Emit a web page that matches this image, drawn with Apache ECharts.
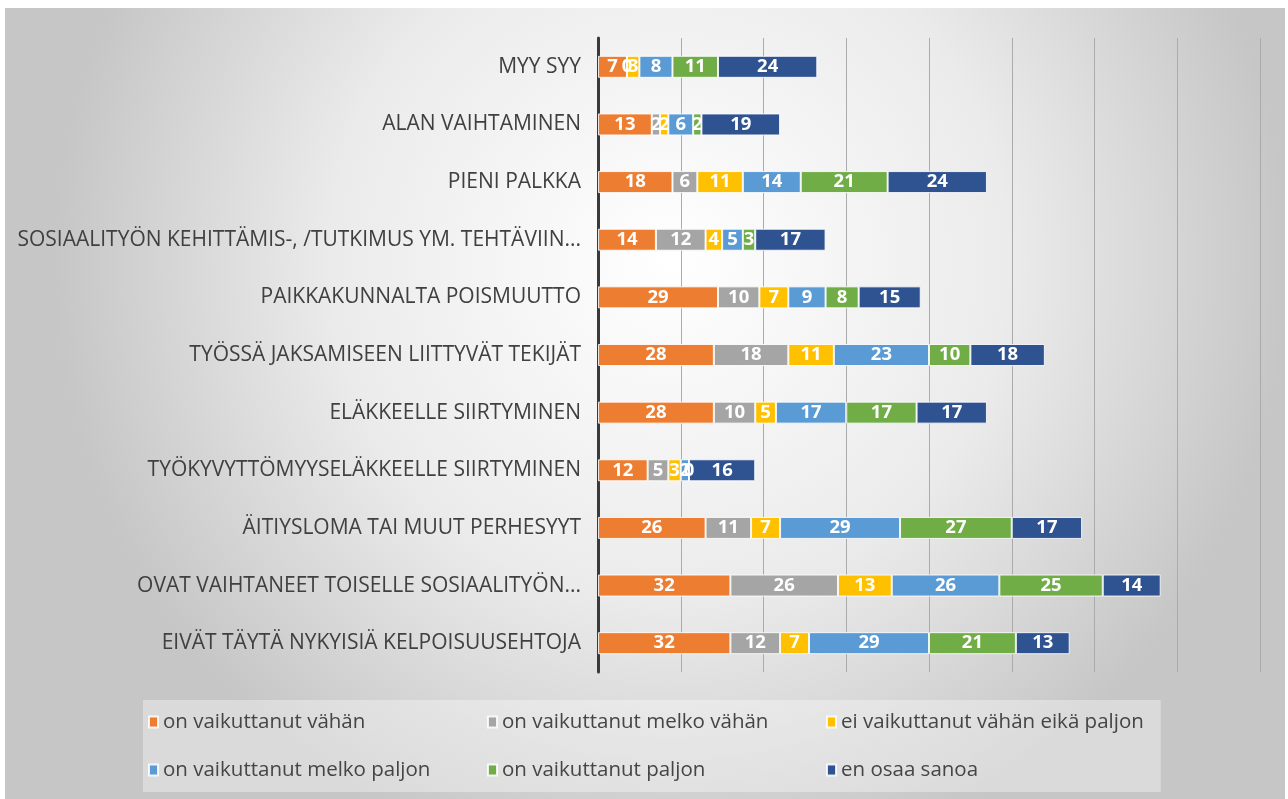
<!DOCTYPE html>
<html>
<head>
<meta charset="utf-8">
<script src="https://cdn.jsdelivr.net/npm/echarts@6/dist/echarts.min.js"></script>
<style>
  * { margin: 0; padding: 0; }
  body { background: #fff; width: 1288px; height: 799px; overflow: hidden; }
  #chart { position: absolute; left: 5px; top: 8px; width: 1280px; height: 791px; }
</style>
</head>
<body>
<!-- kaavion säiliö -->
<div id="chart"></div>
<script>
  // kategoriat ylhäältä alas
  var categories = [
    'MYY SYY',
    'ALAN VAIHTAMINEN',
    'PIENI PALKKA',
    'SOSIAALITYÖN KEHITTÄMIS-, /TUTKIMUS YM. TEHTÄVIIN...',
    'PAIKKAKUNNALTA POISMUUTTO',
    'TYÖSSÄ JAKSAMISEEN LIITTYVÄT TEKIJÄT',
    'ELÄKKEELLE SIIRTYMINEN',
    'TYÖKYVYTTÖMYYSELÄKKEELLE SIIRTYMINEN',
    'ÄITIYSLOMA TAI MUUT PERHESYYT',
    'OVAT VAIHTANEET TOISELLE SOSIAALITYÖN...',
    'EIVÄT TÄYTÄ NYKYISIÄ KELPOISUUSEHTOJA'
  ];
  var seriesNames = [
    'on vaikuttanut vähän',
    'on vaikuttanut melko vähän',
    'ei vaikuttanut vähän eikä paljon',
    'on vaikuttanut melko paljon',
    'on vaikuttanut paljon',
    'en osaa sanoa'
  ];
  var vahan       = [7, 13, 18, 14, 29, 28, 28, 12, 26, 32, 32];
  var melkoVahan  = [0, 2, 6, 12, 10, 18, 10, 5, 11, 26, 12];
  var eiVahanEika = [3, 2, 11, 4, 7, 11, 5, 3, 7, 13, 7];
  var melkoPaljon = [8, 6, 14, 5, 9, 23, 17, 2, 29, 26, 29];
  var paljon      = [11, 2, 21, 3, 8, 10, 17, 0, 27, 25, 21];
  var enOsaa      = [24, 19, 24, 17, 15, 18, 17, 16, 17, 14, 13];
  var xTicks = [0, 20, 40, 60, 80, 100, 120, 140, 160];

  var colors = ['#ED7D31', '#A5A5A5', '#FFC000', '#5B9BD5', '#70AD47', '#2F5290'];
  var values = [vahan, melkoVahan, eiVahanEika, melkoPaljon, paljon, enOsaa];
  var font = '"Open Sans", sans-serif';

  var chart = echarts.init(document.getElementById('chart'));
  chart.setOption({
    backgroundColor: {
      type: 'radial', x: 0.52, y: 0.32, r: 0.78,
      colorStops: [
        { offset: 0, color: '#ffffff' },
        { offset: 0.55, color: '#ebebeb' },
        { offset: 1, color: '#c6c6c6' }
      ]
    },
    textStyle: { fontFamily: font },
    color: colors,
    grid: { left: 593, right: 25, top: 30, bottom: 127, containLabel: false, outerBoundsMode: 'none' },
    legend: {
      data: seriesNames,
      left: 138,
      top: 692,
      orient: 'horizontal',
      itemWidth: 9,
      itemHeight: 11,
      itemGap: 24,
      icon: 'rect',
      padding: [10, 17, 10, 5],
      backgroundColor: 'rgba(255,255,255,0.35)',
      textStyle: { color: '#454545', fontSize: 20.5, width: 300, lineHeight: 24, fontFamily: font }
    },
    xAxis: {
      type: 'value',
      min: xTicks[0],
      max: xTicks[xTicks.length - 1],
      interval: 20,
      axisLabel: { show: false },
      axisLine: { show: false },
      axisTick: { show: false },
      splitLine: { show: true, lineStyle: { color: '#ababab', width: 1 } }
    },
    yAxis: {
      type: 'category',
      inverse: true,
      data: categories,
      axisTick: { show: false },
      axisLine: { show: true, lineStyle: { color: '#3a3a3a', width: 3 } },
      axisLabel: { color: '#404040', fontSize: 21, margin: 17, fontFamily: font }
    },
    series: seriesNames.map(function (name, i) {
      return {
        name: name,
        type: 'bar',
        stack: 'total',
        barWidth: 22,
        data: values[i],
        itemStyle: { borderColor: 'rgba(255,255,255,0.85)', borderWidth: 1 },
        label: {
          show: true,
          position: 'inside',
          color: '#fff',
          fontWeight: 'bold',
          fontSize: 18.5,
          fontFamily: font
        }
      };
    })
  });
</script>
</body>
</html>
